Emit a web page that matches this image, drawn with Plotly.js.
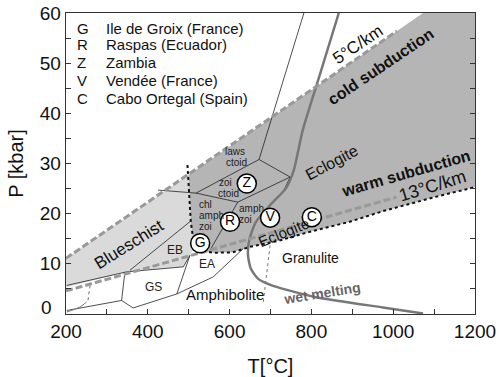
<!DOCTYPE html>
<html><head><meta charset="utf-8">
<script src="https://cdn.plot.ly/plotly-3.0.1.min.js"></script>
<style>html,body{margin:0;padding:0;background:#fff}#c{width:500px;height:377px}</style>
</head><body><div id="c"></div>
<script>
// ---- data (T in degC, P in kbar) ----
const blueschistT = [200, 499, 502, 505, 510, 516, 503, 487, 348, 200];
const blueschistP = [11.1, 27.7, 23.3, 18.5, 15.5, 13.5, 11.7, 9.4, 8.4, 5.3];
const eclogiteT = [499, 1073, 1200, 1200, 1106, 975, 894, 792, 720, 650, 608, 560, 535, 520, 510, 505, 502, 499];
const eclogiteP = [27.7, 60, 60, 25.3, 23.4, 20.5, 18.4, 16.3, 14.6, 13.4, 12.3, 12.2, 12.6, 13.5, 15.5, 18.5, 23.3, 27.7];
const eclBoundT = [497, 502, 505, 510, 520, 535, 560, 608, 650, 720, 792, 894, 975, 1106, 1200];
const eclBoundP = [29.7, 23.3, 18.5, 15.5, 13.5, 12.6, 12.2, 12.3, 13.4, 14.6, 16.3, 18.4, 20.5, 23.4, 25.3];
const coldT = [200, 1009], coldP = [11.1, 56.4];
const warmT = [200, 1008], warmP = [4.6, 23.3];
const meltT = [867, 823, 779, 757, 738, 699, 664, 648, 645, 652, 670, 700, 740, 814, 975, 1073];
const meltP = [60, 48.3, 36.7, 28.7, 25.1, 21.7, 18.3, 14.7, 11.7, 9.0, 7.0, 5.8, 4.8, 3.3, 1.3, 0.1];
const granBoundT = [699, 682], granBoundP = [13.7, 2.1];
const zeoBoundT = [258.7, 253.8], zeoBoundP = [5.7, 2.7];
const zeoArcT = [201.7, 234, 250.5], zeoArcP = [0.4, 1.4, 2.4];
// thin facies boundaries
const gridLines = [
  {T: [782, 687, 672], P: [60.1, 34.7, 30.8]},
  {T: [672, 748, 731], P: [30.8, 27.3, 24.3]},
  {T: [672, 518], P: [30.8, 24.1]},
  {T: [425, 518, 620, 748], P: [24.7, 24.1, 22.3, 27.3]},
  {T: [620, 552], P: [22.3, 12.7]},
  {T: [503, 356], P: [18.4, 8.7]},
  {T: [503, 471], P: [11.7, 4.0]},
  {T: [633, 560, 471], P: [13.0, 7.4, 4.0]},
  {T: [471, 364, 336], P: [4.0, 1.2, 2.7]},
  {T: [344, 336], P: [8.4, 2.7]},
  {T: [202, 336], P: [0.7, 2.7]},
  {T: [202, 348, 487, 503], P: [5.7, 8.4, 9.4, 11.7]}
];
const siteCodes = ['G', 'R', 'Z', 'V', 'C'];
const siteNames = ['Ile de Groix (France)', 'Raspas (Ecuador)', 'Zambia', 'Vendée (France)', 'Cabo Ortegal (Spain)'];
const siteT = [528, 601, 642, 699, 801];
const siteP = [14.1, 18.4, 26.0, 19.2, 19.3];
const xTicks = [200, 400, 600, 800, 1000, 1200];
const yTicks = [0, 10, 20, 30, 40, 50, 60];
const yTickText = ['', '10', '20', '30', '40', '50', '60'];

const F = 'Liberation Sans, Arial, Helvetica, sans-serif';
const traces = [];
traces.push({x: blueschistT, y: blueschistP, type: 'scatter', mode: 'lines', fill: 'toself', fillcolor: '#dadada', line: {width: 0}, hoverinfo: 'skip'});
traces.push({x: eclogiteT, y: eclogiteP, type: 'scatter', mode: 'lines', fill: 'toself', fillcolor: '#b5b5b5', line: {width: 0}, hoverinfo: 'skip'});
gridLines.forEach(g => traces.push({x: g.T, y: g.P, type: 'scatter', mode: 'lines', line: {color: '#222', width: 0.8}}));
traces.push({x: zeoBoundT, y: zeoBoundP, type: 'scatter', mode: 'lines', line: {color: '#444', width: 0.8, dash: 'dot'}});
traces.push({x: zeoArcT, y: zeoArcP, type: 'scatter', mode: 'lines', line: {color: '#777', width: 1, shape: 'spline'}});
traces.push({x: granBoundT, y: granBoundP, type: 'scatter', mode: 'lines', line: {color: '#555', width: 0.8, dash: 'dot'}});
traces.push({x: meltT, y: meltP, type: 'scatter', mode: 'lines', line: {color: '#777', width: 2.5, shape: 'spline', smoothing: 0.6}});
traces.push({x: coldT, y: coldP, type: 'scatter', mode: 'lines', line: {color: '#999', width: 3, dash: '7px,3px'}});
traces.push({x: warmT, y: warmP, type: 'scatter', mode: 'lines', line: {color: '#999', width: 3, dash: '7px,3px'}});
traces.push({x: eclBoundT, y: eclBoundP, type: 'scatter', mode: 'lines', line: {color: '#111', width: 2, dash: 'dot'}});
traces.push({x: siteT, y: siteP, type: 'scatter', mode: 'markers+text', text: siteCodes, textposition: 'middle center',
  textfont: {family: F, size: 14, color: '#000'},
  marker: {symbol: 'circle', size: 19, color: '#fff', line: {color: '#000', width: 1.5}}});

const ann = [];
function A(text, x, y, o) { ann.push(Object.assign({text: text, x: x, y: y, xref: 'x', yref: 'y', showarrow: false,
  font: {family: F, size: 14, color: '#111'}}, o || {})); }
const rowP = [57.0, 53.7, 50.2, 46.6, 42.9];
siteCodes.forEach((c, i) => {
  A(c, 222, rowP[i], {xanchor: 'left', font: {family: F, size: 15, color: '#111'}});
  A(siteNames[i], 294, rowP[i], {xanchor: 'left', font: {family: F, size: 15, color: '#111'}});
});
A('5°C/km', 914, 53.7, {textangle: -34, font: {family: F, size: 17, color: '#111'}});
A('<b>cold subduction</b>', 970, 49.3, {textangle: -34, font: {family: F, size: 16, color: '#111'}});
A('<b>warm subduction</b>', 1029, 28.1, {textangle: -16, font: {family: F, size: 16, color: '#111'}});
A('13°C/km', 1095, 25.5, {textangle: -17, font: {family: F, size: 18, color: '#111'}});
A('Eclogite', 850, 30.3, {textangle: -28, font: {family: F, size: 16, color: '#111'}});
A('Eclogite', 731, 16.3, {textangle: -22, font: {family: F, size: 15, color: '#111'}});
A('Blueschist', 354, 13.9, {textangle: -32, font: {family: F, size: 17, color: '#111'}});
A('Granulite', 799, 11.1, {font: {family: F, size: 14, color: '#111'}});
A('Amphibolite', 589, 3.9, {font: {family: F, size: 15, color: '#111'}});
A('<b>wet melting</b>', 826, 4.1, {textangle: -9, font: {family: F, size: 14, color: '#666'}});
A('EB', 466, 12.7, {font: {family: F, size: 12, color: '#222'}});
A('EA', 544, 10.0, {font: {family: F, size: 12, color: '#222'}});
A('GS', 413, 5.4, {font: {family: F, size: 12, color: '#222'}});
const sm = {family: F, size: 10, color: '#222'};
A('laws', 613, 32.4, {font: sm, borderpad: 0});
A('ctoid', 616, 30.2, {font: sm, borderpad: 0});
A('zoi', 589, 26.2, {font: sm, borderpad: 0});
A('ctoid', 598, 24.0, {font: sm, borderpad: 0});
A('chl', 522, 21.8, {xanchor: 'left', font: sm, borderpad: 0});
A('amph', 522, 19.6, {xanchor: 'left', font: sm, borderpad: 0});
A('zoi', 522, 17.4, {xanchor: 'left', font: sm, borderpad: 0});
A('amph', 620, 21.1, {xanchor: 'left', font: sm, borderpad: 0});
A('zoi', 620, 18.9, {xanchor: 'left', font: sm, borderpad: 0});
// y-axis "0" label, lifted clear of the x-axis "200" as in the original
ann.push({text: '0', xref: 'paper', yref: 'paper', x: -0.048, y: 0.022, xanchor: 'center', yanchor: 'middle',
  showarrow: false, borderpad: 0, font: {family: F, size: 19, color: '#111'}});

const layout = {
  width: 500, height: 377, showlegend: false,
  margin: {l: 66, r: 25, t: 13, b: 63},
  paper_bgcolor: '#fff', plot_bgcolor: '#fff',
  font: {family: F, size: 19, color: '#111'},
  xaxis: {range: [200, 1200], tickvals: xTicks, ticks: 'inside', ticklen: 5, tickcolor: '#333',
    showgrid: false, zeroline: false, showline: true, linecolor: '#333', linewidth: 1.3, mirror: true,
    minor: {dtick: 100, ticks: 'inside', ticklen: 5, tickcolor: '#333', showgrid: false},
    tickfont: {family: F, size: 19, color: '#111'},
    title: {text: 'T[°C]', font: {family: F, size: 20, color: '#111'}, standoff: 18}},
  yaxis: {range: [0, 60], tickvals: yTicks, ticktext: yTickText, ticks: 'inside', ticklen: 5, tickcolor: '#333',
    showgrid: false, zeroline: false, showline: true, linecolor: '#333', linewidth: 1.3, mirror: 'ticks',
    minor: {dtick: 5, ticks: 'inside', ticklen: 5, tickcolor: '#333', showgrid: false},
    tickfont: {family: F, size: 19, color: '#111'},
    title: {text: 'P [kbar]', font: {family: F, size: 20, color: '#111'}, standoff: 10}},
  annotations: ann
};
Plotly.newPlot('c', traces, layout, {staticPlot: true, displayModeBar: false});
</script></body></html>
